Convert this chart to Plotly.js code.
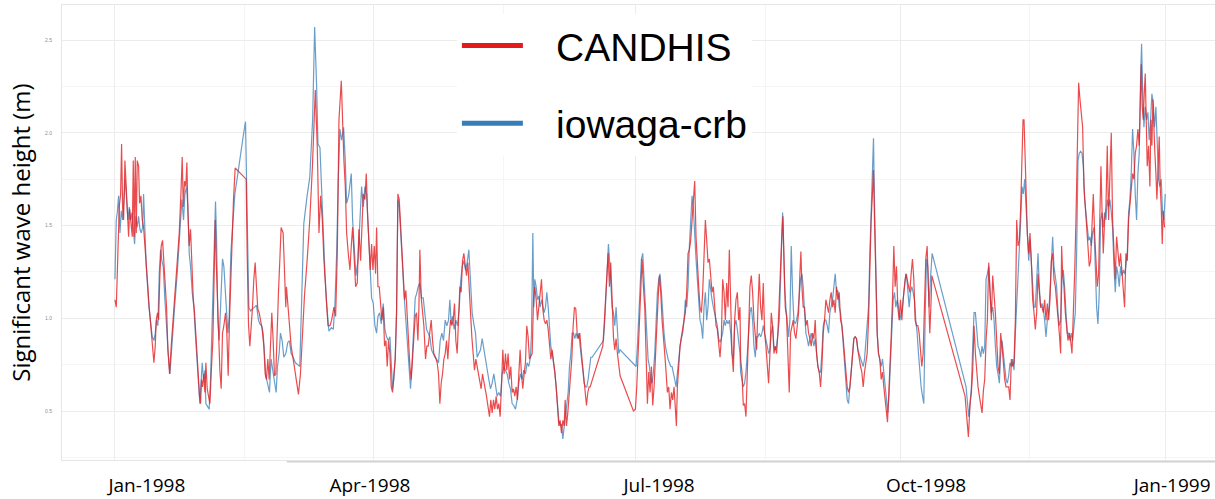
<!DOCTYPE html>
<html>
<head>
<meta charset="utf-8">
<script src="https://cdn.plot.ly/plotly-3.0.1.min.js"></script>
<style>
  html, body { margin: 0; padding: 0; background: #fff; }
  #chart { width: 1215px; height: 499px; }
</style>
</head>
<body>
<div id="chart"></div>
<script>
// Significant wave height, buoy (CANDHIS) vs hindcast (iowaga-crb), 1998.
// Time is stored as days since 1998-01-01 00:00 UTC; gaps are simply joined by the line.

const candDay = [
  0.00, 0.46, 0.81, 1.16, 1.50, 1.97, 2.31, 2.66, 3.01, 3.47, 3.94, 4.28, 4.75, 5.09, 5.56, 6.02, 6.37, 6.71, 7.06, 7.41,
  7.75, 8.22, 8.56, 9.03, 9.49, 9.95, 10.42, 10.88, 11.34, 11.81, 12.27, 12.73, 13.19, 13.54, 14.00, 14.35, 14.81, 15.16, 15.63, 16.09,
  16.55, 17.01, 17.48, 17.94, 18.40, 18.98, 19.56, 20.49, 21.41, 22.34, 22.92, 23.38, 23.73, 24.19, 24.65, 25.00, 25.35, 25.81, 26.27, 26.74,
  27.20, 27.66, 28.13, 28.59, 29.05, 29.40, 29.75, 30.09, 30.44, 30.90, 31.25, 31.60, 32.06, 32.52, 32.99, 33.56, 34.03, 34.49, 34.84, 35.19,
  35.53, 35.99, 36.46, 36.92, 37.38, 37.85, 38.43, 38.89, 39.35, 39.81, 40.28, 40.74, 41.20, 41.78, 43.63, 45.60, 45.95, 46.41, 46.88, 47.34,
  47.80, 48.26, 48.73, 49.19, 49.65, 50.12, 50.58, 51.16, 51.74, 52.20, 52.66, 53.13, 53.59, 54.05, 54.51, 54.98, 55.44, 55.90, 56.37, 56.83,
  57.29, 57.75, 58.45, 58.91, 59.38, 59.61, 60.07, 60.53, 61.23, 62.15, 63.08, 63.77, 64.47, 65.16, 65.86, 66.78, 67.71, 68.63,
  69.63, 70.32, 70.90, 71.48, 72.06, 72.64, 73.22, 74.03, 74.72, 75.30, 76.11, 76.69, 77.27, 77.85, 78.66, 79.12, 79.58, 80.05, 80.51, 81.09,
  81.67, 82.13, 82.59, 83.06, 83.64, 84.21, 84.79, 85.37, 85.83, 86.30, 86.88, 87.34, 87.80, 88.26, 88.73, 89.19, 89.65, 90.12, 90.58, 90.93,
  91.39, 91.85, 92.31, 92.78, 93.24, 93.70, 94.17, 94.63, 95.09, 95.56, 96.02, 96.48, 96.94, 97.41, 97.87, 98.33, 98.80, 99.26, 99.72, 100.19,
  100.65, 101.11, 101.57, 102.04, 102.50, 102.96, 103.43, 103.89, 104.35, 104.81, 105.28, 105.63, 105.97, 106.44, 106.90, 107.36, 107.94, 108.40, 108.86, 109.44,
  109.91, 110.37, 110.83, 111.41, 111.99, 112.45, 112.92, 113.38, 113.84, 114.31, 114.77, 115.23, 115.69, 116.16, 116.62, 117.08, 117.55, 118.01, 118.47, 118.94,
  119.40, 119.86, 120.32, 120.79, 121.25, 121.71, 122.18, 122.64, 123.10, 123.56, 124.03, 124.49, 124.95, 125.42, 125.88, 126.34, 126.81, 127.27, 127.73, 128.19,
  128.66, 129.12, 129.70, 130.16, 130.62, 131.09, 131.55, 132.01, 132.48, 132.94, 133.40, 133.87, 134.33, 134.79, 135.25, 135.72, 136.18, 136.64, 137.11, 137.57,
  138.03, 138.50, 138.96, 139.42, 139.88, 140.35, 140.81, 141.27, 141.74, 142.20, 142.66, 143.12, 143.59, 144.05,
  145.00, 145.46, 145.92, 146.39, 146.85, 147.31, 147.78, 148.24, 148.70, 149.17, 149.63, 150.09, 150.56, 151.02, 151.48, 151.94, 152.41, 152.87, 153.33, 153.80,
  154.26, 154.72, 155.19, 155.65, 156.11, 156.46, 156.92, 157.38, 157.85, 158.31, 158.77, 159.24, 159.70, 160.16, 160.63, 161.09, 161.55, 162.01, 162.48, 162.94,
  163.40, 163.87, 164.33, 164.79, 165.14, 169.54, 170.00, 170.46, 170.93, 171.39, 171.85, 172.31, 172.78, 173.24, 173.70, 174.17, 174.63, 175.09, 175.56, 180.19,
  180.88, 181.34, 181.81, 182.27, 182.73, 183.19, 183.66, 184.12, 184.58, 185.05, 185.51, 185.97, 186.44, 186.90, 187.36, 187.82, 188.29, 188.75, 189.21, 189.68,
  190.14, 190.60, 191.06, 191.53, 191.99, 192.45, 192.92, 193.38, 193.84, 194.31, 194.77, 195.12, 195.46, 195.93, 196.39, 196.85, 197.31, 197.78, 198.24, 198.70,
  199.17, 199.63, 200.09, 200.56, 201.02, 201.48, 201.94, 202.41, 202.87, 203.33, 203.80, 204.26, 204.72, 205.19, 205.65, 206.11, 206.57, 207.04, 207.50, 207.96,
  208.43, 208.89, 209.35, 209.81, 210.28, 210.74, 211.20, 211.67, 212.13, 212.59, 213.06, 213.52, 213.98, 214.44, 214.91, 215.37, 215.83, 216.30, 216.76, 217.22,
  217.44, 217.90, 218.37, 218.83, 219.29, 219.76, 220.22, 220.68, 221.15, 221.61, 222.07, 222.54, 223.00, 223.46, 223.92, 224.39, 224.85, 225.31, 225.78, 226.24,
  226.70, 227.16, 227.63, 228.09, 228.55, 229.02, 229.48, 229.94, 230.41, 230.87, 231.33, 231.79, 232.14, 232.49, 232.95, 233.41, 233.88, 234.34, 234.80, 235.27,
  235.73, 236.19, 236.65, 237.12, 237.58, 238.04, 238.39, 238.74, 239.20, 239.66, 240.13, 240.59, 241.05, 241.52, 241.98, 242.44, 242.90, 243.37, 243.83, 244.29,
  244.76, 245.22, 245.68, 246.15, 246.61, 247.07, 247.53, 248.00, 248.46, 248.92, 249.39, 249.85, 250.31, 250.78, 251.24, 251.70, 252.16, 252.63, 253.09, 253.55,
  254.02, 254.48, 254.94, 255.41, 255.87, 256.33, 256.79, 257.26, 257.72, 258.18, 258.65, 259.11, 259.57, 260.04, 260.50, 260.96, 261.42, 261.89, 262.35, 262.81,
  263.28, 263.62, 263.97, 264.43, 264.90, 265.36, 265.82, 266.29, 266.75, 267.21, 267.67, 268.14, 268.48, 268.83, 269.29, 269.76, 270.22, 270.68, 271.14, 271.61,
  272.07, 272.53, 273.00, 273.46, 273.92, 274.39, 274.85, 275.31, 275.77, 276.24, 276.70, 277.16, 277.63, 278.09, 278.55, 279.02, 279.48, 279.94, 280.40, 280.87,
  281.33, 281.79, 282.26, 282.72, 283.18, 283.65, 283.88,
  295.44, 296.02, 296.60, 297.18, 297.64, 298.10, 298.56, 299.03, 299.49, 299.95, 300.42, 300.88, 301.34, 301.81, 302.27, 302.73, 303.19, 303.66, 304.12, 304.58,
  305.05, 305.51, 305.97, 306.44, 306.90, 307.36, 307.82, 308.29, 308.75, 309.21, 309.68, 310.14, 310.60, 311.06, 311.53, 311.99, 312.45, 312.92, 313.38, 313.84,
  314.31, 314.77, 315.23, 315.58, 315.93, 316.27, 316.62, 317.08, 317.55, 318.01, 318.47, 318.94, 319.40, 319.86, 320.32, 320.79, 321.25, 321.71, 322.18, 322.64,
  323.10, 323.56, 324.03, 324.49, 324.95, 325.42, 325.88, 326.34, 326.81, 327.27, 327.73, 328.19, 328.66, 329.00, 329.35, 329.81, 330.28, 330.74, 331.20, 331.67,
  332.13, 332.59, 333.06, 333.52, 333.98, 334.44, 334.91, 335.37, 335.83, 336.30, 336.76, 337.22, 337.69, 338.15, 338.61, 339.07, 339.54, 340.00, 340.46, 340.93,
  341.39, 341.85, 342.32, 342.66, 343.01, 343.47, 343.94, 344.40, 344.86, 345.32, 345.79, 346.25, 346.71, 347.18, 347.64, 348.10, 348.56, 349.03, 349.49, 349.95,
  350.42, 350.88, 351.34, 351.81, 352.27, 352.73, 353.19, 353.66, 354.12, 354.58, 355.05, 355.51, 355.97, 356.44, 356.67, 357.01, 357.36, 357.71, 358.06, 358.40,
  358.75, 359.21, 359.68, 360.02, 360.37, 360.72, 361.06, 361.41, 361.76, 362.11, 362.45, 362.92, 363.26, 363.61, 363.96, 364.31, 364.77,
];
const candHs = [
  1.10, 1.06, 1.24, 1.40, 1.60, 1.67, 1.94, 1.60, 1.53, 1.85, 1.69, 1.57, 1.44, 1.59, 1.53, 1.44, 1.85, 1.44, 1.87, 1.46,
  1.85, 1.82, 1.62, 1.66, 1.53, 1.49, 1.39, 1.26, 1.19, 1.08, 0.99, 0.88, 0.81, 0.76, 0.85, 0.99, 1.03, 0.99, 1.24, 1.39,
  1.42, 1.31, 1.17, 1.06, 0.83, 0.70, 0.85, 1.06, 1.24, 1.46, 1.67, 1.87, 1.60, 1.74, 1.71, 1.84, 1.58, 1.39, 1.48, 1.24,
  1.11, 1.03, 0.90, 0.81, 0.69, 0.58, 0.54, 0.67, 0.63, 0.70, 0.60, 0.76, 0.62, 0.58, 0.54, 0.74, 0.88, 1.24, 1.53, 1.31,
  1.12, 0.90, 0.72, 0.62, 0.92, 0.96, 1.03, 0.92, 0.69, 0.99, 1.23, 1.44, 1.64, 1.81, 1.78, 1.75, 1.35, 0.97, 0.85, 0.94,
  1.06, 1.21, 1.30, 1.17, 1.05, 1.03, 0.99, 0.94, 0.85, 0.70, 0.67, 0.78, 0.67, 0.88, 1.03, 0.88, 0.69, 0.70, 0.99, 1.14,
  1.31, 1.49, 1.46, 1.26, 1.06, 1.17, 1.08, 0.94, 0.85, 0.76, 0.67, 0.59, 0.70, 0.90, 1.12, 1.31, 1.53, 1.82,
  2.23, 1.92, 1.46, 1.66, 1.53, 1.31, 1.14, 0.96, 0.96, 0.99, 1.06, 1.01, 1.35, 2.07, 2.28, 1.98, 1.85, 1.71, 1.46, 1.35,
  1.26, 1.39, 1.49, 1.35, 1.17, 1.19, 1.48, 1.31, 1.49, 1.67, 1.64, 1.78, 1.56, 1.39, 1.26, 1.40, 1.26, 1.39, 1.24, 1.49,
  1.17, 1.17, 1.05, 0.99, 1.06, 0.85, 0.88, 0.74, 0.88, 0.81, 0.63, 0.60, 0.70, 0.78, 1.03, 1.67, 1.64, 1.49, 1.35, 1.26,
  1.10, 1.15, 1.01, 0.88, 0.74, 0.67, 0.78, 0.86, 1.01, 1.03, 0.88, 1.05, 1.37, 1.11, 1.03, 0.96, 0.78, 0.85, 0.85, 0.92,
  0.99, 0.88, 0.81, 0.79, 0.76, 0.70, 0.54, 0.65, 0.70, 0.78, 0.81, 0.88, 0.78, 0.90, 0.99, 0.96, 0.99, 1.08, 0.88, 0.81,
  1.05, 1.17, 1.14, 1.31, 1.35, 1.28, 1.23, 1.30, 1.14, 1.03, 0.90, 0.81, 0.72, 0.78, 0.74, 0.70, 0.65, 0.62, 0.70, 0.65,
  0.62, 0.58, 0.53, 0.47, 0.56, 0.49, 0.56, 0.51, 0.58, 0.51, 0.54, 0.47, 0.63, 0.83, 0.70, 0.81, 0.72, 0.81, 0.67, 0.74,
  0.60, 0.62, 0.58, 0.63, 0.56, 0.67, 0.83, 0.70, 0.62, 0.70, 0.76, 0.96, 0.90, 0.78,
  0.81, 1.10, 1.17, 1.10, 0.99, 1.06, 1.14, 1.21, 1.05, 0.99, 0.97, 0.99, 0.94, 0.85, 0.78, 0.83, 0.78, 0.71, 0.63, 0.53,
  0.42, 0.45, 0.38, 0.45, 0.42, 0.56, 0.42, 0.49, 0.60, 0.67, 0.78, 0.96, 1.06, 1.05, 0.92, 0.89, 0.92, 0.83, 0.76, 0.67,
  0.60, 0.53, 0.60, 0.63, 0.63, 0.85, 0.96, 1.10, 1.26, 1.35, 1.17, 1.30, 1.10, 0.90, 0.83, 0.89, 0.81, 0.74, 0.69, 0.50,
  0.51, 0.63, 0.81, 1.06, 1.24, 1.32, 1.17, 1.06, 0.81, 0.54, 0.71, 0.60, 0.74, 0.53, 0.63, 0.81, 0.99, 1.10, 1.23, 1.14,
  0.99, 0.92, 0.81, 0.71, 0.60, 0.63, 0.51, 0.60, 0.56, 0.63, 0.54, 0.42, 0.63, 0.78, 0.85, 0.90, 0.96, 0.99, 1.03, 1.14,
  1.35, 1.37, 1.42, 1.53, 1.62, 1.74, 1.44, 1.28, 1.17, 1.06, 1.03, 1.14, 1.35, 1.53, 1.42, 1.30, 1.32, 1.21, 1.14, 1.17,
  1.06, 0.96, 0.94, 0.85, 0.79, 0.89, 1.21, 1.14, 0.99, 1.19, 1.06, 1.37, 1.10, 0.81, 0.71, 0.99, 1.10, 1.14, 0.99, 1.06,
  0.78, 0.71, 0.53, 0.54, 0.47, 0.71, 0.96, 1.17, 1.23, 1.14, 0.99, 0.90, 0.83, 1.06, 1.24, 1.06, 0.99, 1.19, 0.92, 0.85,
  0.71, 0.65, 0.81, 1.03, 0.96, 0.81, 0.85, 0.81, 0.92, 1.14, 1.32, 1.46, 1.55, 1.32, 1.06, 1.01, 0.81, 0.60, 0.92, 0.96,
  0.99, 0.92, 0.89, 0.96, 1.03, 1.24, 1.36, 1.17, 1.06, 1.06, 0.96, 0.99, 0.92, 0.89, 0.85, 0.92, 0.89, 0.99, 0.81, 0.74,
  0.71, 0.63, 0.74, 0.92, 0.99, 1.10, 1.06, 1.03, 1.10, 1.14, 1.06, 1.10, 1.03, 1.17, 1.10, 1.14, 0.99, 0.96, 0.89, 0.81,
  0.71, 0.63, 0.60, 0.63, 0.71, 0.81, 0.89, 0.90, 0.89, 0.83, 0.78, 0.74, 0.71, 0.63, 0.71, 0.78, 0.81, 0.99, 1.32, 1.53,
  1.68, 1.80, 1.53, 1.17, 0.92, 0.81, 0.78, 0.67, 0.71, 0.63, 0.56, 0.49, 0.44, 0.56, 0.71, 0.90, 1.10, 1.39, 1.17, 1.28,
  1.06, 0.99, 1.10, 0.99, 1.10, 1.17, 1.24, 1.21, 1.17, 1.14, 1.24, 1.32, 1.21, 0.99, 0.96, 0.96, 0.92, 0.81, 0.74, 0.81,
  1.06, 1.32, 1.39, 1.14, 0.92, 1.10, 1.23,
  0.58, 0.44, 0.36, 0.54, 0.60, 0.72, 0.96, 0.81, 0.70, 0.63, 0.58, 0.54, 0.49, 0.61, 0.67, 0.88, 0.99, 1.30, 1.14, 0.99,
  1.23, 1.14, 1.03, 0.88, 0.74, 0.70, 0.92, 0.85, 0.74, 0.67, 0.63, 0.63, 0.63, 0.56, 0.78, 0.74, 0.76, 0.99, 1.53, 1.39,
  1.42, 1.60, 1.89, 2.07, 2.07, 1.89, 1.71, 1.46, 1.35, 1.46, 1.31, 1.10, 1.03, 0.94, 1.03, 1.24, 1.14, 1.06, 1.06, 1.03,
  1.10, 0.99, 1.08, 0.99, 1.10, 1.31, 1.35, 1.21, 1.17, 1.10, 0.99, 0.92, 0.81, 1.39, 1.24, 1.17, 1.03, 0.96, 0.88, 0.92,
  0.88, 0.81, 0.99, 1.24, 1.53, 2.00, 2.27, 2.18, 2.12, 2.03, 1.71, 1.60, 1.53, 1.42, 1.28, 1.31, 1.49, 1.67, 1.46, 1.28,
  1.17, 1.24, 1.53, 1.82, 1.60, 1.35, 1.53, 1.60, 1.93, 1.53, 1.78, 2.00, 1.53, 1.35, 1.21, 1.44, 1.35, 1.28, 1.35, 1.24,
  1.14, 1.06, 1.35, 1.31, 1.53, 1.60, 1.71, 1.78, 1.75, 1.89, 1.93, 2.02, 1.93, 2.18, 2.37, 2.14, 2.07, 2.21, 2.32, 2.07,
  1.82, 1.93, 1.71, 2.07, 1.93, 2.18, 2.00, 1.89, 1.78, 1.64, 1.78, 1.98, 1.71, 1.60, 1.40, 1.58, 1.49,
];

const crbDay = [
  0.00, 0.46, 0.81, 1.27, 1.74, 2.20, 2.66, 3.13, 3.59, 4.05, 4.51, 4.98, 5.44, 5.90, 6.37, 6.83, 7.29, 7.75, 8.22, 8.68,
  9.14, 9.61, 9.95, 10.42, 10.88, 11.81, 12.38, 12.96, 13.54, 14.00, 14.47, 14.93, 15.39, 15.86, 16.32, 16.78, 17.36, 17.94, 18.52, 19.10,
  19.91, 20.72, 21.64, 22.57, 23.26, 23.84, 24.31, 24.88, 25.35, 25.81, 26.27, 26.85, 27.43, 28.01, 28.59, 29.05, 29.51, 29.98, 30.32, 30.79,
  31.25, 31.60, 32.06, 32.75, 33.22, 33.80, 34.38, 34.95, 35.30, 35.76, 36.23, 36.69, 37.04, 37.38, 37.85, 38.31, 38.77, 39.24, 39.70, 40.28,
  40.86, 41.67, 42.71, 43.63, 44.56, 45.37, 45.72, 46.06, 46.53, 47.11, 47.80, 48.61, 49.19, 49.88, 50.35, 51.04, 51.50, 51.97, 52.43, 53.01,
  53.70, 54.28, 54.75, 55.32, 56.02, 56.48, 57.06, 57.52, 58.10, 58.68, 59.38, 60.07, 60.65, 61.23, 61.92, 62.73, 63.54, 64.24, 64.93, 65.63,
  66.78, 67.71,
  68.70, 69.40, 70.09, 70.56, 71.25, 71.83, 72.41, 72.99, 73.56, 74.37, 75.19, 75.88, 76.46, 77.04, 77.62, 78.19, 78.77, 79.47, 80.05, 80.51,
  81.20, 81.67, 82.13, 82.59, 83.17, 83.75, 84.44, 85.14, 85.72, 86.30, 86.88, 87.45, 88.03, 88.61, 89.19, 89.77, 90.35, 90.93, 91.39, 91.97,
  92.55, 93.24, 93.82, 94.40, 94.98, 95.56, 96.02, 96.48, 96.94, 97.41, 97.87, 98.33, 98.80, 99.26, 99.84, 100.42, 101.11, 101.69, 102.27, 102.73,
  103.31, 103.89, 104.35, 104.81, 105.39, 105.97, 106.55, 107.13, 107.71, 108.29, 108.86, 109.44, 110.02, 110.60, 111.18, 111.76, 112.45, 113.03, 113.61, 114.19,
  114.77, 115.35, 115.93, 116.39, 116.85, 117.31, 117.89, 118.47, 119.05, 119.63, 120.09, 120.67, 121.25, 121.83, 122.41, 122.99, 123.56, 124.14, 124.72, 125.30,
  125.88, 126.46, 127.04, 127.62, 128.19, 128.77, 129.35, 129.93, 130.51, 131.09, 131.67, 132.25, 132.82, 133.40, 133.98, 134.56, 135.14, 135.72, 136.30, 136.88,
  137.45, 138.03, 138.61, 139.19, 139.77, 140.35, 140.93, 141.51, 142.08, 142.66, 143.24, 143.82, 144.40,
  144.77, 145.23, 145.58, 145.92, 146.39, 146.85, 147.31, 147.78, 148.24, 148.70, 149.17, 149.63, 150.09, 150.56, 151.02, 151.48, 151.94, 152.41, 152.87, 153.33,
  153.80, 154.26, 154.72, 155.19, 155.65, 156.11, 156.57, 157.04, 157.50, 157.96, 158.43, 158.89, 159.35, 159.81, 160.28, 160.74, 161.20, 161.67, 162.13, 162.59,
  163.06, 163.52, 163.98, 164.44, 164.91, 165.37, 165.83, 169.77, 170.23, 170.69, 171.16, 171.50, 171.85, 172.31, 172.78, 173.24, 173.70, 174.17, 174.63, 175.09,
  175.56, 180.76, 181.11, 181.57, 182.04, 182.50, 182.96, 183.43, 183.89, 184.35, 184.81, 185.28, 185.74, 186.20, 186.67, 187.13, 187.59, 188.06, 188.52, 188.98,
  189.44, 189.91, 190.37, 190.83, 191.30, 191.76, 192.22, 192.69, 193.15, 193.61, 194.07, 194.54, 195.00, 195.46, 195.93, 196.39, 196.85, 197.31, 197.78, 198.24,
  198.70, 199.17, 199.63, 200.09, 200.56, 201.02, 201.48, 201.94, 202.41, 202.87, 203.33, 203.80, 204.26, 204.72, 205.19, 205.65, 206.11, 206.57, 207.04, 207.50,
  207.96, 208.43, 208.89, 209.35, 209.81, 210.28, 210.74, 211.20, 211.67, 212.13, 212.59, 213.06, 213.52, 213.98, 214.44, 214.91, 215.37, 215.83, 216.30, 216.76,
  217.22,
  217.44, 217.90, 218.37, 218.83, 219.29, 219.76, 220.22, 220.68, 221.15, 221.61, 222.07, 222.54, 223.00, 223.46, 223.92, 224.39, 224.85, 225.31, 225.78, 226.24,
  226.70, 227.16, 227.63, 228.09, 228.55, 229.02, 229.48, 229.94, 230.41, 230.87, 231.33, 231.68, 232.03, 232.37, 232.72, 233.18, 233.65, 234.11, 234.57, 235.03,
  235.50, 235.96, 236.42, 236.88, 237.35, 237.81, 238.27, 238.74, 239.20, 239.66, 240.13, 240.59, 241.05, 241.52, 241.98, 242.44, 242.90, 243.37, 243.83, 244.29,
  244.76, 245.22, 245.68, 246.15, 246.61, 247.07, 247.53, 248.00, 248.46, 248.92, 249.39, 249.85, 250.31, 250.78, 251.24, 251.70, 252.16, 252.63, 253.09, 253.55,
  254.02, 254.48, 254.94, 255.41, 255.87, 256.33, 256.79, 257.26, 257.72, 258.18, 258.65, 259.11, 259.57, 260.04, 260.50, 260.96, 261.42, 261.89, 262.35, 262.81,
  263.28, 263.62, 263.97, 264.43, 264.90, 265.36, 265.82, 266.29, 266.75, 267.21, 267.67, 268.14, 268.60, 269.06, 269.53, 269.99, 270.45, 270.91, 271.38, 271.84,
  272.30, 272.77, 273.23, 273.69, 274.16, 274.62, 275.08, 275.54, 276.01, 276.47, 276.93, 277.40, 277.86, 278.32, 278.79, 279.25, 279.71, 280.17, 280.64, 281.10,
  281.56, 282.03, 282.49, 282.95, 283.41, 283.99,
  295.79, 296.25, 296.71, 297.18, 297.64, 298.10, 298.56, 299.03, 299.49, 299.95, 300.42, 300.88, 301.34, 301.81, 302.27, 302.73, 303.19, 303.66, 304.12, 304.58,
  305.05, 305.51, 305.97, 306.44, 306.90, 307.36, 307.82, 308.29, 308.75, 309.21, 309.68, 310.14, 310.60, 311.06, 311.53, 311.99, 312.45, 312.92, 313.38, 313.84,
  314.31, 314.77, 315.23, 315.69, 316.16, 316.62, 317.08, 317.55, 318.01, 318.47, 318.94, 319.40, 319.86, 320.32, 320.79, 321.25, 321.71, 322.18, 322.64, 323.10,
  323.56, 324.03, 324.49, 324.95, 325.42, 325.88, 326.34, 326.81, 327.27, 327.73, 328.19, 328.66, 329.12, 329.58, 330.05, 330.51, 330.97, 331.44, 331.90, 332.36,
  332.82, 333.29, 333.75, 334.21, 334.68, 335.14, 335.60, 336.06, 336.53, 336.99, 337.45, 337.92, 338.38, 338.84, 339.31, 339.77, 340.23, 340.69, 341.16, 341.62,
  342.08, 342.55, 343.01, 343.47, 343.94, 344.40, 344.86, 345.32, 345.79, 346.25, 346.71, 347.18, 347.64, 348.10, 348.56, 349.03, 349.49, 349.95, 350.42, 350.88,
  351.34, 351.81, 352.27, 352.73, 353.19, 353.66, 354.12, 354.58, 355.05, 355.51, 355.97, 356.44, 356.78, 357.13, 357.59, 358.06, 358.52, 358.98, 359.44, 359.91,
  360.37, 360.83, 361.30, 361.76, 362.22, 362.69, 363.15, 363.61, 364.07, 364.54, 365.00,
];
const crbHs = [
  1.21, 1.53, 1.57, 1.66, 1.46, 1.58, 1.53, 1.67, 1.75, 1.64, 1.53, 1.60, 1.53, 1.57, 1.46, 1.40, 1.55, 1.49, 1.55, 1.48,
  1.46, 1.49, 1.67, 1.44, 1.28, 1.06, 0.99, 0.90, 0.88, 0.92, 0.99, 0.96, 1.24, 1.37, 1.31, 1.28, 1.10, 0.94, 0.81, 0.70,
  0.90, 1.06, 1.24, 1.49, 1.64, 1.53, 1.67, 1.71, 1.60, 1.35, 1.28, 1.14, 1.06, 0.90, 0.74, 0.63, 0.54, 0.67, 0.76, 0.67,
  0.72, 0.54, 0.53, 0.51, 0.67, 0.99, 1.35, 1.63, 1.44, 0.99, 0.88, 1.08, 1.24, 1.32, 1.28, 1.17, 1.03, 0.92, 1.01, 1.35,
  1.49, 1.67, 1.78, 1.89, 1.98, 2.06, 1.75, 1.35, 1.06, 1.04, 1.05, 1.06, 1.07, 0.99, 0.97, 0.96, 0.92, 0.81, 0.69, 0.65,
  0.60, 0.78, 0.72, 0.67, 0.60, 0.74, 0.81, 0.92, 0.88, 0.79, 0.81, 0.87, 0.88, 0.81, 0.79, 0.76, 0.75, 0.74, 1.12, 1.51,
  1.66, 1.76,
  2.07, 2.57, 2.25, 1.94, 1.92, 1.67, 1.44, 1.24, 1.08, 0.93, 0.95, 0.94, 1.08, 1.35, 1.75, 2.02, 1.96, 2.03, 1.85, 1.62,
  1.66, 1.71, 1.78, 1.53, 1.35, 1.23, 1.31, 1.53, 1.71, 1.60, 1.71, 1.67, 1.49, 1.24, 1.11, 1.08, 0.96, 0.92, 1.01, 1.03,
  0.97, 1.08, 0.94, 0.90, 0.88, 0.90, 0.74, 0.62, 0.67, 0.79, 1.03, 1.64, 1.60, 1.49, 1.31, 1.14, 0.99, 0.88, 0.72, 0.62,
  0.78, 0.96, 1.11, 1.13, 1.17, 1.19, 1.11, 1.11, 1.03, 0.94, 0.92, 0.90, 0.83, 0.81, 0.79, 0.78, 0.76, 0.88, 0.92, 0.88,
  0.99, 0.96, 0.99, 1.10, 0.97, 1.01, 0.94, 0.99, 0.96, 1.05, 1.19, 1.28, 1.31, 1.26, 1.30, 1.37, 1.17, 1.03, 0.97, 0.92,
  0.79, 0.81, 0.83, 0.89, 0.83, 0.78, 0.72, 0.67, 0.62, 0.65, 0.70, 0.65, 0.58, 0.60, 0.58, 0.70, 0.74, 0.72, 0.70, 0.65,
  0.62, 0.54, 0.53, 0.51, 0.56, 0.65, 0.70, 0.67, 0.72, 0.70, 0.76, 0.74, 0.79,
  0.92, 1.46, 1.06, 1.21, 1.17, 1.10, 1.12, 1.06, 1.10, 1.06, 1.03, 1.06, 1.14, 1.06, 0.96, 0.85, 0.81, 0.76, 0.71, 0.63,
  0.53, 0.45, 0.42, 0.43, 0.35, 0.42, 0.49, 0.53, 0.60, 0.74, 0.81, 0.92, 0.92, 0.89, 0.92, 0.89, 0.92, 0.85, 0.78, 0.71,
  0.65, 0.63, 0.63, 0.67, 0.74, 0.79, 0.79, 0.88, 0.99, 1.17, 1.35, 1.40, 1.32, 1.21, 1.06, 1.03, 0.96, 1.06, 0.92, 0.81,
  0.83, 0.74, 0.74, 0.85, 0.99, 1.14, 1.32, 1.35, 1.21, 1.03, 0.89, 0.78, 0.74, 0.67, 0.65, 0.71, 0.81, 0.99, 1.14, 1.21,
  1.24, 1.14, 0.99, 0.92, 0.85, 0.81, 0.78, 0.76, 0.74, 0.74, 0.71, 0.67, 0.63, 0.71, 0.81, 0.85, 0.89, 0.92, 0.99, 1.10,
  1.06, 1.17, 1.39, 1.53, 1.66, 1.59, 1.42, 1.32, 1.21, 1.06, 0.99, 0.96, 0.89, 1.06, 1.14, 0.99, 1.06, 1.21, 1.14, 1.10,
  1.06, 1.03, 0.99, 0.96, 0.89, 0.87, 0.89, 0.92, 0.99, 0.96, 0.99, 0.97, 0.99, 0.92, 0.81, 0.78, 0.96, 0.99, 0.94, 0.85,
  0.81,
  0.71, 0.67, 0.63, 0.65, 0.71, 0.81, 0.96, 1.03, 1.06, 0.99, 0.85, 0.79, 0.90, 0.90, 0.92, 0.90, 0.92, 0.96, 0.92, 0.89,
  0.85, 0.81, 0.83, 0.92, 0.96, 0.85, 0.83, 0.85, 0.92, 0.99, 1.21, 1.42, 1.57, 1.39, 1.17, 1.06, 0.99, 0.90, 0.99, 1.39,
  1.14, 0.99, 0.97, 0.99, 1.03, 1.14, 1.21, 1.24, 1.17, 1.03, 0.92, 0.89, 0.85, 0.89, 0.92, 0.89, 0.85, 0.89, 0.81, 0.74,
  0.71, 0.71, 0.81, 0.96, 0.99, 0.99, 0.96, 0.92, 1.03, 1.06, 1.10, 1.17, 1.24, 1.14, 1.15, 1.06, 1.03, 0.96, 0.85, 0.74,
  0.63, 0.56, 0.54, 0.63, 0.74, 0.85, 0.89, 0.90, 0.89, 0.83, 0.81, 0.78, 0.76, 0.74, 0.78, 0.89, 0.96, 1.06, 1.35, 1.62,
  1.85, 1.97, 1.62, 1.21, 0.92, 0.81, 0.78, 0.74, 0.78, 0.71, 0.63, 0.53, 0.49, 0.60, 0.78, 0.96, 1.10, 1.14, 1.06, 1.10,
  1.06, 0.99, 1.03, 1.06, 1.14, 1.21, 1.24, 1.17, 1.06, 1.14, 1.17, 1.14, 1.10, 0.99, 0.92, 0.81, 0.71, 0.63, 0.58, 0.54,
  0.99, 1.32, 1.28, 1.06, 1.21, 1.35,
  0.63, 0.53, 0.47, 0.54, 0.63, 0.85, 1.03, 1.03, 0.92, 0.85, 0.83, 0.79, 0.85, 0.81, 0.85, 1.21, 1.24, 1.28, 1.14, 1.03,
  1.06, 0.99, 0.85, 0.74, 0.70, 0.65, 0.81, 0.88, 0.81, 0.74, 0.67, 0.65, 0.69, 0.76, 0.74, 0.78, 0.72, 0.92, 1.06, 1.17,
  1.35, 1.53, 1.71, 1.67, 1.75, 1.60, 1.46, 1.31, 1.42, 1.31, 1.17, 1.06, 1.06, 1.21, 1.35, 1.17, 1.06, 1.08, 1.05, 0.99,
  0.90, 0.99, 1.03, 1.14, 1.35, 1.44, 1.28, 1.21, 1.17, 1.03, 0.96, 0.99, 1.21, 1.26, 1.17, 1.03, 0.92, 0.92, 0.88, 0.92,
  0.88, 0.96, 1.03, 1.35, 1.85, 1.89, 1.90, 1.89, 1.82, 1.64, 1.57, 1.46, 1.42, 1.44, 1.39, 1.46, 1.49, 1.28, 1.06, 0.97,
  1.14, 1.53, 1.57, 1.49, 1.57, 1.53, 1.64, 1.60, 1.64, 1.57, 1.49, 1.28, 1.14, 1.28, 1.24, 1.17, 1.28, 1.23, 1.26, 1.24,
  1.28, 1.35, 1.57, 1.64, 1.78, 2.02, 1.89, 1.67, 1.53, 1.78, 1.89, 2.30, 2.48, 2.25, 2.03, 2.14, 2.07, 2.11, 1.96, 2.07,
  2.21, 2.16, 2.03, 2.14, 1.96, 1.75, 1.71, 1.75, 1.57, 1.53, 1.67,
];

// x labels sit a little off the quarter gridlines in the original, so they get their own axis
const labelDay = [11.1, 88.6, 189.1, 281.9, 367.4];
const labelText = ["Jan-1998", "Apr-1998", "Jul-1998", "Oct-1998", "Jan-1999"];
const gridDates = ["1998-01-01", "1998-04-01", "1998-07-01", "1998-10-01", "1999-01-01"];
const minorGridDates = ["1998-02-15", "1998-05-16", "1998-08-15", "1998-11-15"];
const yTicks = [0.5, 1.0, 1.5, 2.0, 2.5];

const RED = "#E41A1C";
const BLUE = "#377EB8";
const T0 = Date.UTC(1998, 0, 1);
const toMs = (d) => T0 + d * 864e5;
const xRange = [toMs(-18.4), toMs(382.3)];
const GAP = "\u00a0\u00a0\u2006"; // space between legend key and label

const traces = [
  {
    x: crbDay.map(toMs), y: crbHs, type: "scatter", mode: "lines",
    name: "iowaga-crb", showlegend: false,
    line: { color: BLUE, width: 1.2 }, opacity: 0.75,
  },
  {
    x: candDay.map(toMs), y: candHs, type: "scatter", mode: "lines",
    name: "CANDHIS", showlegend: false,
    line: { color: RED, width: 1.2 }, opacity: 0.78,
  },
  // legend keys only (thicker lines than the data)
  {
    x: [null], y: [null], xaxis: "x2", type: "scatter", mode: "lines",
    name: GAP + "CANDHIS", legendgroup: "a",
    line: { color: RED, width: 5 },
  },
  {
    x: [null], y: [null], xaxis: "x2", type: "scatter", mode: "lines",
    name: GAP + "iowaga-crb", legendgroup: "b",
    line: { color: BLUE, width: 5 },
  },
];

const layout = {
  width: 1215,
  height: 499,
  margin: { l: 62, r: 0, t: 5, b: 39 },
  paper_bgcolor: "#fff",
  plot_bgcolor: "#fff",
  font: { family: "Open Sans, sans-serif", color: "#000" },
  hovermode: false,
  showlegend: true,
  legend: {
    x: 0.3425, y: 0.981, xanchor: "left", yanchor: "top",
    bgcolor: "#fff", borderwidth: 0,
    font: { family: "Liberation Sans, Arial, sans-serif", size: 39, color: "#000" },
    traceorder: "grouped", tracegroupgap: 24, itemwidth: 61,
  },
  xaxis: {
    type: "date", range: xRange,
    tickvals: gridDates, showticklabels: false, ticks: "",
    showgrid: true, gridcolor: "#ececec", gridwidth: 1,
    minor: { tickvals: minorGridDates, showgrid: true, gridcolor: "#f5f5f5", ticks: "" },
    zeroline: false, showline: true, mirror: true, linecolor: "#e6e6e6", linewidth: 1,
  },
  xaxis2: {
    type: "date", range: xRange, overlaying: "x", anchor: "y", side: "bottom",
    tickvals: labelDay.map(toMs), ticktext: labelText,
    showgrid: false, zeroline: false, showline: false, ticks: "",
    ticklabelstandoff: 12,
    tickfont: { family: "Open Sans, sans-serif", size: 19, color: "#000" },
  },
  yaxis: {
    range: [0.236, 2.689],
    tickvals: yTicks, tickformat: ".1f", ticks: "",
    ticklabelstandoff: 8,
    tickfont: { family: "Liberation Sans, Arial, sans-serif", size: 5, color: "#8c8c8c" },
    showgrid: true, gridcolor: "#ececec", gridwidth: 1,
    minor: { dtick: 0.25, tick0: 0, showgrid: true, gridcolor: "#f5f5f5", ticks: "" },
    zeroline: false, showline: true, mirror: true, linecolor: "#e6e6e6", linewidth: 1,
    title: {
      // leading spaces lift the centred title a little, as in the original
      text: "\u00a0\u00a0\u00a0\u00a0Significant wave height (m)",
      standoff: 7,
      font: { family: "Open Sans, sans-serif", size: 24, color: "#000" },
    },
  },
  shapes: [
    {
      type: "line", xref: "paper", yref: "paper",
      x0: 0.195, x1: 1, y0: -0.004, y1: -0.004,
      line: { color: "#d2d2d2", width: 1.5 },
    },
  ],
};

Plotly.newPlot("chart", traces, layout, { displayModeBar: false, staticPlot: true });
</script>
</body>
</html>
